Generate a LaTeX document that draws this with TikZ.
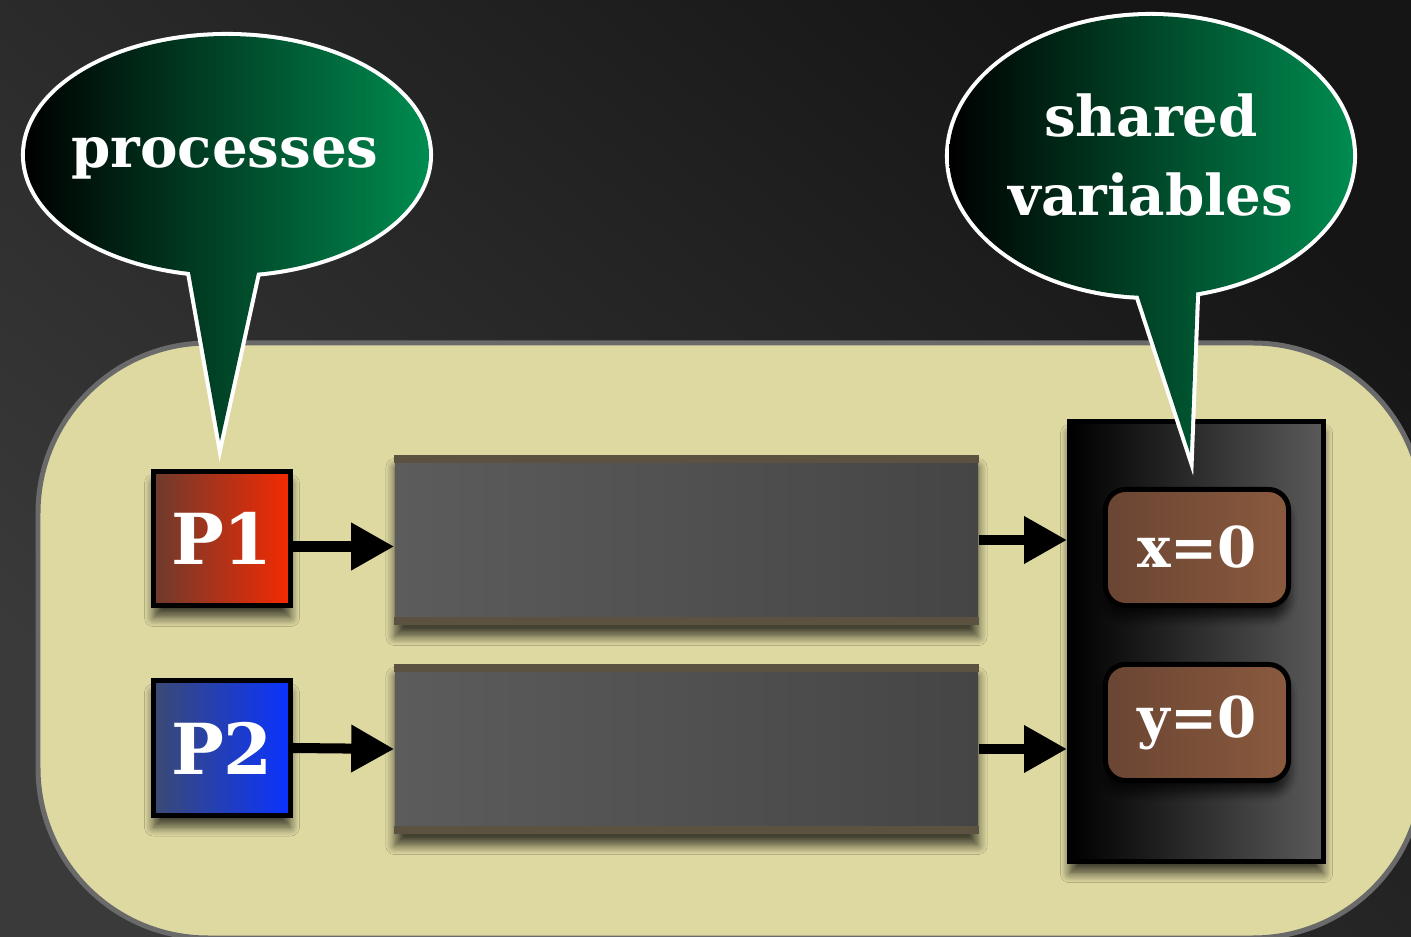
\documentclass[tikz,border=0pt]{standalone}
\usepackage{fontspec}
\setmainfont{DejaVu Serif}
\usepackage{xcolor}
\usetikzlibrary{arrows.meta}
\usetikzlibrary{shadows.blur}
\usetikzlibrary{positioning}

\definecolor{bgtop}{HTML}{151515}
\definecolor{bgbot}{HTML}{3A3A3A}
\definecolor{khaki}{HTML}{DED9A1}
\definecolor{khakirim}{HTML}{6A6A6A}
\definecolor{bubblegreen}{HTML}{008C50}
\definecolor{redA}{HTML}{6D3B2D}
\definecolor{redB}{HTML}{F42A02}
\definecolor{blueA}{HTML}{3B4A72}
\definecolor{blueB}{HTML}{0A33FF}
\definecolor{brownA}{HTML}{6A4533}
\definecolor{brownB}{HTML}{8A5A3E}
\definecolor{barA}{HTML}{5C5C5C}
\definecolor{barB}{HTML}{454545}
\definecolor{barband}{HTML}{5C5241}
\definecolor{panelB}{HTML}{5A5A5A}

\tikzset{
  softshadow/.style={blur shadow={shadow xshift=0pt, shadow yshift=-0.12cm, shadow blur radius=0.09cm, shadow blur steps=8, shadow opacity=70}},
  procbox/.style={draw=black, line width=1.42pt, minimum width=1.37cm, minimum height=1.34cm, inner sep=0pt,
    text=white, font=\bfseries\fontsize{20}{24}\selectfont, softshadow},
  queue/.style={minimum width=5.83cm, minimum height=1.69cm, inner sep=0pt, left color=barA, right color=barB, softshadow},
  varbox/.style={draw=black, line width=1.42pt, rounded corners=0.2cm, minimum width=1.83cm, minimum height=1.16cm, inner sep=0pt,
    left color=brownA, right color=brownB, text=white, font=\bfseries\fontsize{16}{20}\selectfont, softshadow},
  flow/.style={line width=2.85pt, -{Triangle[length=12.2pt,width=12.8pt]}},
  bubblerim/.style={draw=white, line width=2.3pt},
  bubblefill/.style={left color=black, right color=bubblegreen},
  bubbletext/.style={text=white, font=\bfseries\fontsize{16}{22.2}\selectfont, align=center},
}

\begin{document}
\begin{tikzpicture}[x=0.01cm, y=-0.01cm]
	\useasboundingbox (0,0) rectangle (1411,937);
	% backdrop and stage
	\shade[top color=bgtop, bottom color=bgbot, shading angle=-40] (0,0) rectangle (1411,937);
	\draw[fill=khaki, draw=khakirim, line width=1.42pt, rounded corners=1.7cm] (38,343) rectangle (1423,938);

	% processes
	\node[procbox, left color=redA, right color=redB] (p1) at (222,538.5) {P1};
	\node[procbox, left color=blueA, right color=blueB] (p2) at (222,748) {P2};

	% queues
	\node[queue] (q1) at (686.5,540) {};
	\node[queue] (q2) at (686.5,749) {};
	\foreach \q in {q1,q2} {
		\fill[barband] (\q.north west) rectangle ([yshift=-0.08cm]\q.north east);
		\fill[barband] (\q.south west) rectangle ([yshift=0.08cm]\q.south east);
	}

	% shared memory
	\node[draw=black, line width=1.42pt, minimum width=2.54cm, minimum height=4.40cm, left color=black, right color=panelB, softshadow] (mem) at (1196.5,641.5) {};
	\node[varbox] (vx) at (1197,547.5) {x=0};
	\node[varbox] (vy) at (1197,722.5) {y=0};

	\coordinate (a1) at ([yshift=-0.08cm]p1.east);
	\draw[flow] (a1) -- (a1 -| q1.west);
	\draw[flow] (p2.east) -- (q2.west);
	\draw[flow] (q1.east) -- (q1.east -| mem.west);
	\draw[flow] (q2.east) -- (q2.east -| mem.west);

	% callouts
	\draw[bubblerim] (227,155) ellipse [x radius=202, y radius=119] (186,250) -- (262,250) -- (220,441) -- cycle;
	\shade[bubblefill] (227,155) ellipse [x radius=202, y radius=119] (186,250) -- (262,250) -- (220,441) -- cycle;
	\node[bubbletext, anchor=base] (proclbl) at (225,168) {processes};

	\draw[bubblerim] (1151,156) ellipse [x radius=202, y radius=140] (1130,270) -- (1197,270) -- (1190,453) -- cycle;
	\shade[bubblefill] (1151,156) ellipse [x radius=202, y radius=140] (1130,270) -- (1197,270) -- (1190,453) -- cycle;
	\node[bubbletext] (sharedlbl) at (1151,155) {shared\\variables};
\end{tikzpicture}
\end{document}
